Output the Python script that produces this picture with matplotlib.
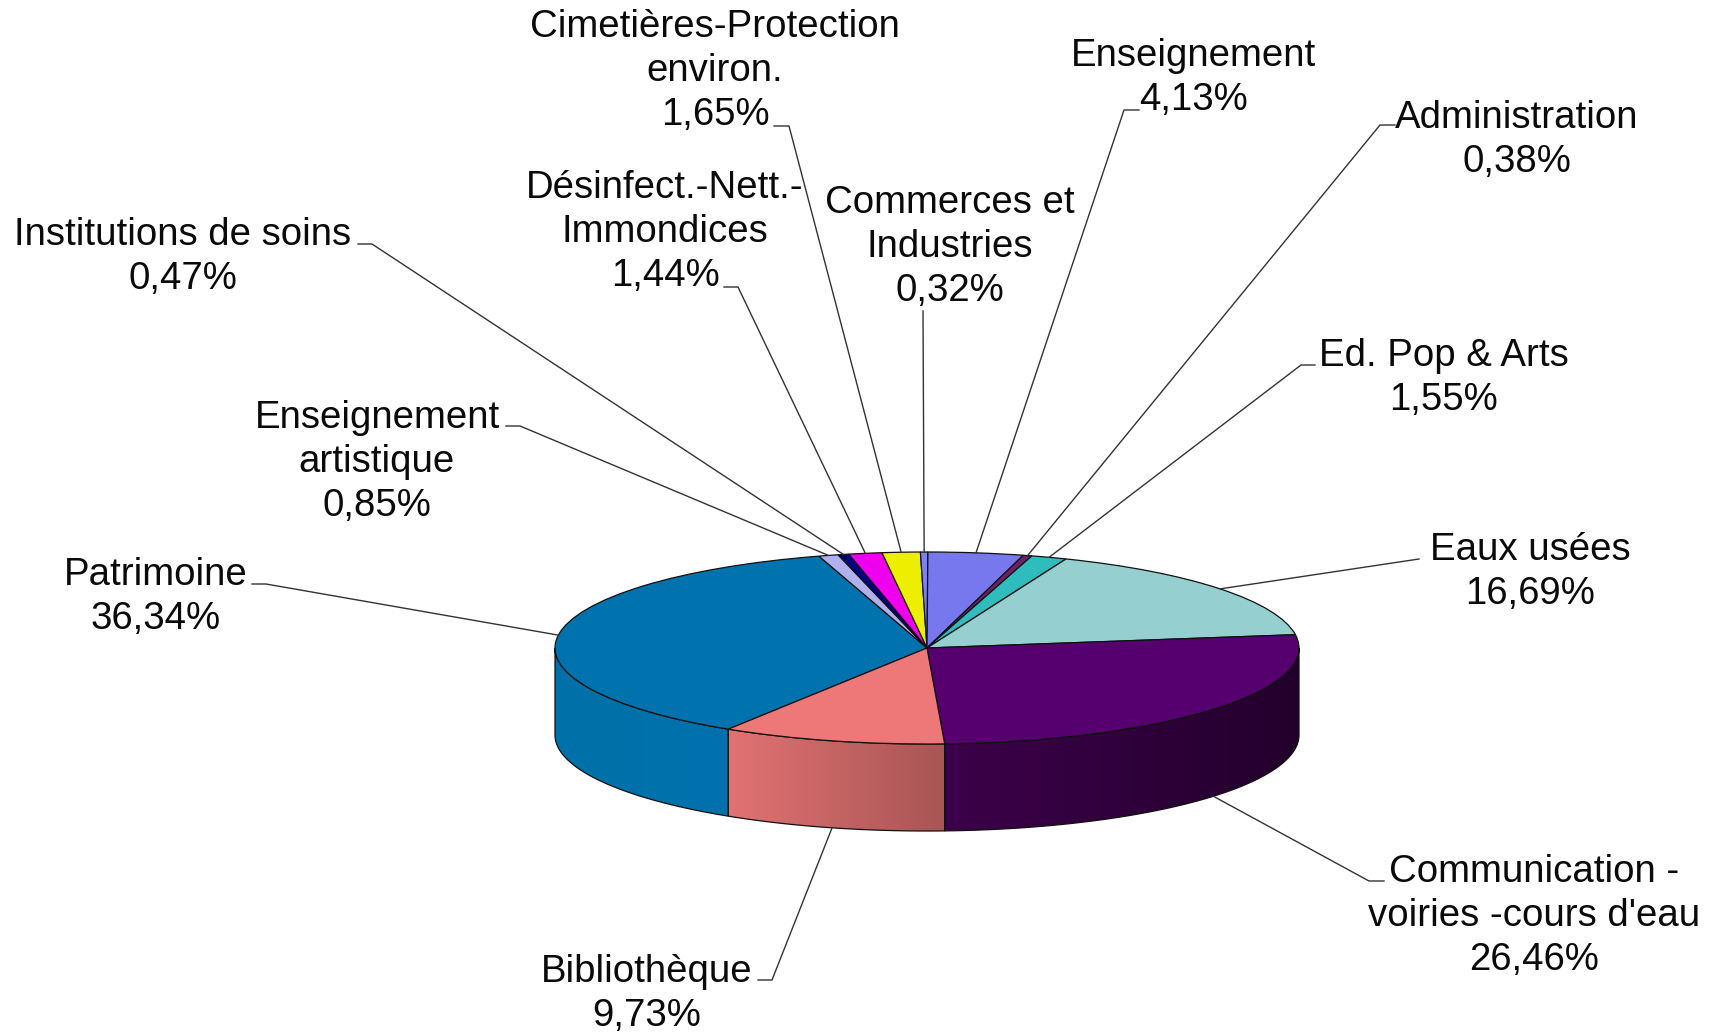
import numpy as np
import matplotlib
matplotlib.use('Agg')
import matplotlib.pyplot as plt
from matplotlib.patches import Polygon

plt.rcParams['font.family'] = ['Liberation Sans', 'DejaVu Sans']

labels = ['Patrimoine', 'Enseignement\nartistique', 'Institutions de soins',
          'Désinfect.-Nett.-\nImmondices', 'Cimetières-Protection\nenviron.',
          'Commerces et\nIndustries', 'Enseignement', 'Administration',
          'Ed. Pop & Arts', 'Eaux usées', 'Communication -\nvoiries -cours d\'eau',
          'Bibliothèque']
values = [36.34, 0.85, 0.47, 1.44, 1.65, 0.32, 4.13, 0.38, 1.55, 16.69, 26.46, 9.73]
colors = ['#0072AD', '#B0B0EC', '#000080', '#EE00EE', '#EEEE00', '#8080EE',
          '#7878EE', '#6E2068', '#2FBCBC', '#95CFCF', '#55006E', '#EE7777']
# wall colour at left and right end, only the slices seen from the front
wall_colors = {0: ('#0070A8', '#0072AD'), 10: ('#3C004A', '#23002C'), 11: ('#E27272', '#A85555')}

# layout in pixels of the picture
W, H = 1715, 1032
cx, cy, rx, ry, depth = 927, 648, 372, 96, 87
first_angle = 212.3  # clockwise from the top
text_pos = [(156, 597), (377, 462), (183, 257), (665, 232), (715, 71), (950, 247),
            (1194, 78), (1517, 140), (1444, 378), (1530, 572), (1534, 916), (647, 994)]
leader_start = [(252, 584), (506, 426), (358, 244), (724, 287), (774, 126), (923, 311),
                (1139, 110), (1395, 125), (1315, 365), (1419, 559), (1384, 881), (758, 980)]
leader_elbow = [(266, 584), (520, 426), (372, 244), (738, 287), (789, 126), None,
                (1124, 110), (1380, 125), (1301, 365), None, (1369, 881), (772, 980)]


def px(x, y):
    return (x - cx) / rx, (cy - y) / ry


def rim(angle):
    a = np.radians(angle)
    return np.sin(a), np.cos(a)


fig = plt.figure(figsize=(W / 100, H / 100), dpi=100)
ax = fig.add_axes([0, 0, 1, 1])

total = sum(values)
edges = first_angle + np.cumsum([0] + values) * 360 / total
edges = np.where(edges >= 360, edges - 360, edges)
d = depth / ry

for i, (col_l, col_r) in wall_colors.items():
    t1 = edges[i + 1] if edges[i + 1] > edges[i] else edges[i + 1] + 360
    t0, t1 = max(edges[i], 90), min(t1, 270)
    th = np.linspace(t0, t1, 80)
    xs, ys = rim(th)
    pts = np.r_[np.c_[xs, ys], np.c_[xs, ys - d][::-1]]
    poly = Polygon(pts, closed=True, facecolor='none', edgecolor='#111111', linewidth=0.9, zorder=2)
    ax.add_patch(poly)
    c0 = np.array(matplotlib.colors.to_rgb(col_l))
    c1 = np.array(matplotlib.colors.to_rgb(col_r))
    grad = np.linspace(c0, c1, 256)[None, :, :]
    im = ax.imshow(grad, extent=(xs.min(), xs.max(), ys.min() - d, ys.max()),
                   aspect='auto', zorder=1, interpolation='bilinear')
    im.set_clip_path(poly)

ax.pie(values, colors=colors, startangle=90 - first_angle, counterclock=False, radius=1,
       wedgeprops=dict(edgecolor='#111111', linewidth=0.9, zorder=3))

for i, lab in enumerate(labels):
    t1 = edges[i + 1] if edges[i + 1] > edges[i] else edges[i + 1] + 360
    mid = (edges[i] + t1) / 2
    ex, ey = rim(mid)
    if 90 < mid % 360 < 270:
        ey -= d
    pts = [px(*leader_start[i])]
    if leader_elbow[i] is not None:
        pts.append(px(*leader_elbow[i]))
    pts.append((ex, ey))
    pts = np.array(pts)
    ax.plot(pts[:, 0], pts[:, 1], color='#333333', lw=1.0, zorder=4)
    tx, ty = px(*text_pos[i])
    pct = ('%.2f' % values[i]).replace('.', ',') + '%'
    ax.text(tx, ty, lab + '\n' + pct, ha='center', va='center', fontsize=27.6,
            linespacing=1.28, color='#0a0a0a', zorder=5)

ax.set_aspect('auto')
ax.set_xlim(px(0, 0)[0], px(W, 0)[0])
ax.set_ylim(px(0, H)[1], px(0, 0)[1])
ax.axis('off')

fig.savefig('out.png', dpi=100, facecolor='white')
